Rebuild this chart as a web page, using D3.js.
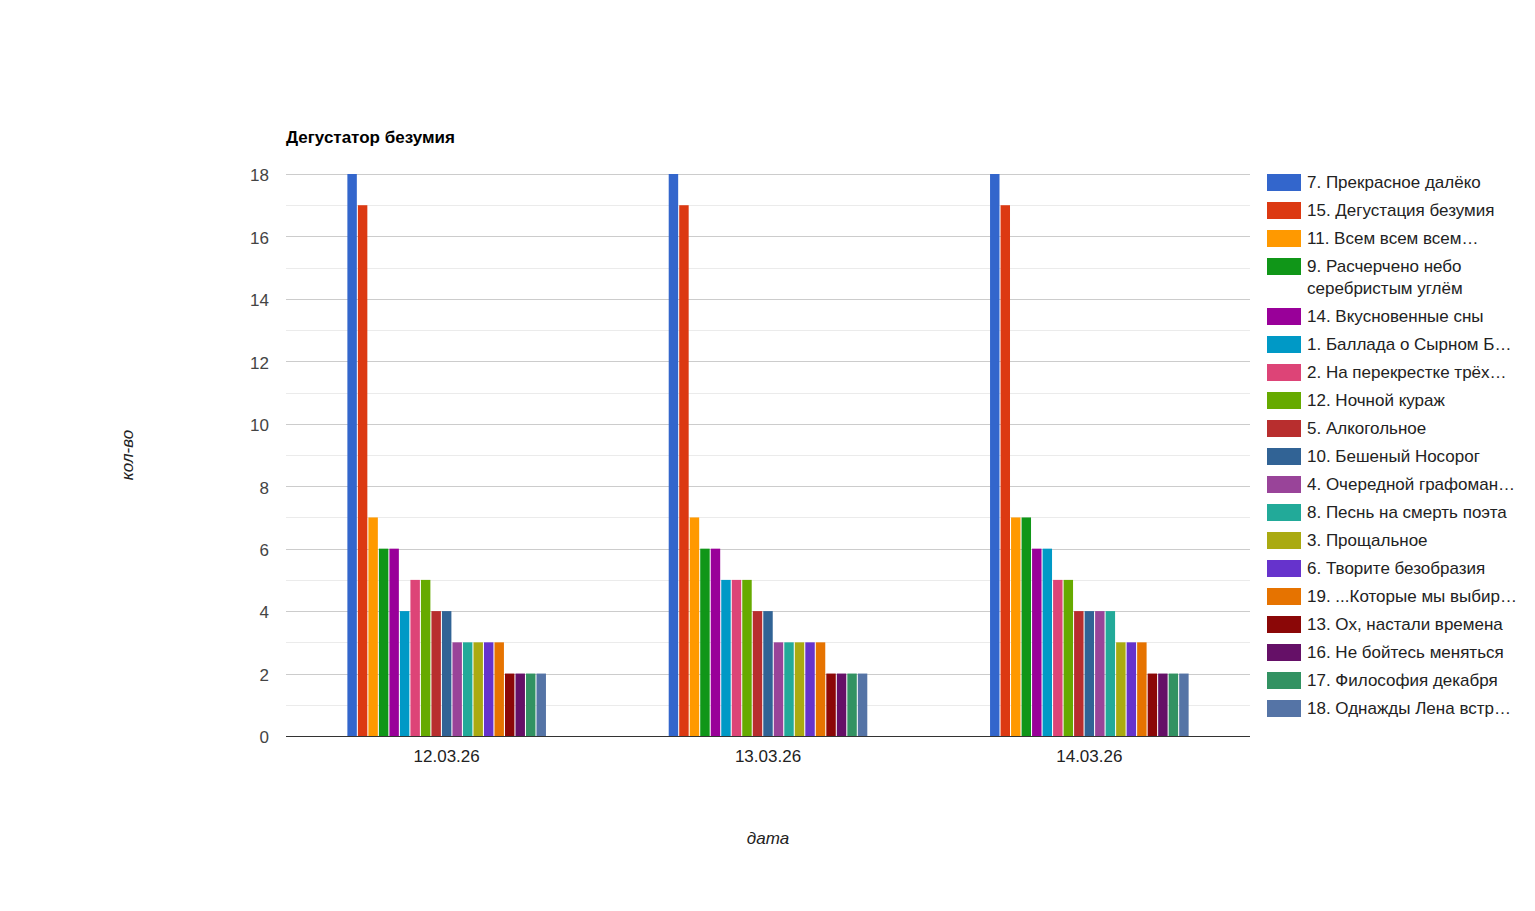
<html>
<head>
<meta charset="utf-8">
<script src="https://cdnjs.cloudflare.com/ajax/libs/d3/7.8.5/d3.min.js"></script>
<style>
    body { margin: 0; background: #fff; }
    svg text { font-family: "Liberation Sans", Arial, sans-serif; }
</style>
</head>
<body>
<div id="chart"></div>
<script>
    // dates on the x axis
    var dates = ["12.03.26", "13.03.26", "14.03.26"];

    // series names (as shown in the legend) and their values per date
    var series = [
        "7. Прекрасное далёко",
        "15. Дегустация безумия",
        "11. Всем всем всем…",
        "9. Расчерчено небо|серебристым углём",
        "14. Вкусновенные сны",
        "1. Баллада о Сырном Б…",
        "2. На перекрестке трёх…",
        "12. Ночной кураж",
        "5. Алкогольное",
        "10. Бешеный Носорог",
        "4. Очередной графоман…",
        "8. Песнь на смерть поэта",
        "3. Прощальное",
        "6. Творите безобразия",
        "19. ...Которые мы выбир…",
        "13. Ох, настали времена",
        "16. Не бойтесь меняться",
        "17. Философия декабря",
        "18. Однажды Лена встр…"
    ];
    var day1 = [18, 17, 7, 6, 6, 4, 5, 5, 4, 4, 3, 3, 3, 3, 3, 2, 2, 2, 2];
    var day2 = [18, 17, 7, 6, 6, 5, 5, 5, 4, 4, 3, 3, 3, 3, 3, 2, 2, 2, 2];
    var day3 = [18, 17, 7, 7, 6, 6, 5, 5, 4, 4, 4, 4, 3, 3, 3, 2, 2, 2, 2];
    var yTicks = [0, 2, 4, 6, 8, 10, 12, 14, 16, 18];

    var colors = ["#3366cc", "#dc3912", "#ff9900", "#109618", "#990099", "#0099c6",
        "#dd4477", "#66aa00", "#b82e2e", "#316395", "#994499", "#22aa99",
        "#aaaa11", "#6633cc", "#e67300", "#8b0707", "#651067", "#329262", "#5574a6"];

    var values = [day1, day2, day3];

    var width = 1535, height = 911;
    var plotLeft = 286, plotRight = 1250, plotTop = 174, plotBottom = 736;
    var fs = 17;

    var svg = d3.select("#chart").append("svg")
        .attr("width", width)
        .attr("height", height);

    var x0 = d3.scaleBand()
        .domain(dates)
        .range([plotLeft, plotRight])
        .paddingInner(0.382)
        .paddingOuter(0.191);

    var x1 = d3.scaleBand()
        .domain(d3.range(series.length))
        .range([0, x0.bandwidth()])
        .paddingInner(0.1);

    var y = d3.scaleLinear()
        .domain([0, 18])
        .range([plotBottom, plotTop]);

    // minor gridlines
    svg.append("g").selectAll("line")
        .data(d3.range(1, 18, 2))
        .enter().append("line")
        .attr("x1", plotLeft).attr("x2", plotRight)
        .attr("y1", function(d) { return Math.round(y(d)) + 0.5; })
        .attr("y2", function(d) { return Math.round(y(d)) + 0.5; })
        .attr("stroke", "#ebebeb");

    // major gridlines
    svg.append("g").selectAll("line")
        .data(yTicks.slice(1))
        .enter().append("line")
        .attr("x1", plotLeft).attr("x2", plotRight)
        .attr("y1", function(d) { return Math.round(y(d)) + 0.5; })
        .attr("y2", function(d) { return Math.round(y(d)) + 0.5; })
        .attr("stroke", "#cccccc");

    var yAxis = svg.append("g")
        .attr("transform", "translate(" + plotLeft + ",0)")
        .call(d3.axisLeft(y).tickValues(yTicks).tickSize(0).tickPadding(17));
    yAxis.select(".domain").remove();
    yAxis.selectAll("text")
        .attr("font-size", fs)
        .attr("font-family", "Liberation Sans, Arial, sans-serif")
        .attr("dy", "0.4em")
        .attr("fill", "#444");

    // bars
    var groups = svg.append("g").selectAll("g")
        .data(values)
        .enter().append("g")
        .attr("transform", function(d, i) { return "translate(" + x0(dates[i]) + ",0)"; });

    groups.selectAll("rect")
        .data(function(d) { return d; })
        .enter().append("rect")
        .attr("x", function(d, i) { return x1(i); })
        .attr("width", x1.bandwidth())
        .attr("y", function(d) { return y(d); })
        .attr("height", function(d) { return y(0) - y(d); })
        .attr("fill", function(d, i) { return colors[i]; });

    // baseline
    svg.append("line")
        .attr("x1", plotLeft).attr("x2", plotRight)
        .attr("y1", plotBottom + 0.5).attr("y2", plotBottom + 0.5)
        .attr("stroke", "#333");

    var xAxis = svg.append("g")
        .attr("transform", "translate(0," + plotBottom + ")")
        .call(d3.axisBottom(x0).tickSize(0).tickPadding(14));
    xAxis.select(".domain").remove();
    xAxis.selectAll("text")
        .attr("font-size", fs)
        .attr("font-family", "Liberation Sans, Arial, sans-serif")
        .attr("fill", "#222");

    // title
    svg.append("text")
        .attr("x", plotLeft)
        .attr("y", 143)
        .attr("font-size", fs)
        .attr("font-weight", "bold")
        .attr("fill", "#000")
        .text("Дегустатор безумия");

    // axis titles
    svg.append("text")
        .attr("x", (plotLeft + plotRight) / 2)
        .attr("y", 844)
        .attr("text-anchor", "middle")
        .attr("font-size", fs)
        .attr("font-style", "italic")
        .attr("fill", "#222")
        .text("дата");

    svg.append("text")
        .attr("transform", "translate(133," + ((plotTop + plotBottom) / 2) + ") rotate(-90)")
        .attr("text-anchor", "middle")
        .attr("font-size", fs)
        .attr("font-style", "italic")
        .attr("fill", "#222")
        .text("кол-во");

    // legend
    var legend = svg.append("g");
    var ly = 174;
    series.forEach(function(name, i) {
        var lines = name.split("|");
        var g = legend.append("g").attr("transform", "translate(1267," + ly + ")");
        g.append("rect")
            .attr("width", 34)
            .attr("height", 17)
            .attr("fill", colors[i]);
        lines.forEach(function(t, j) {
            g.append("text")
                .attr("x", 40)
                .attr("y", 14 + j * 22)
                .attr("font-size", fs)
                .attr("fill", "#222")
                .text(t);
        });
        ly += 28 + (lines.length - 1) * 22;
    });
</script>
</body>
</html>
